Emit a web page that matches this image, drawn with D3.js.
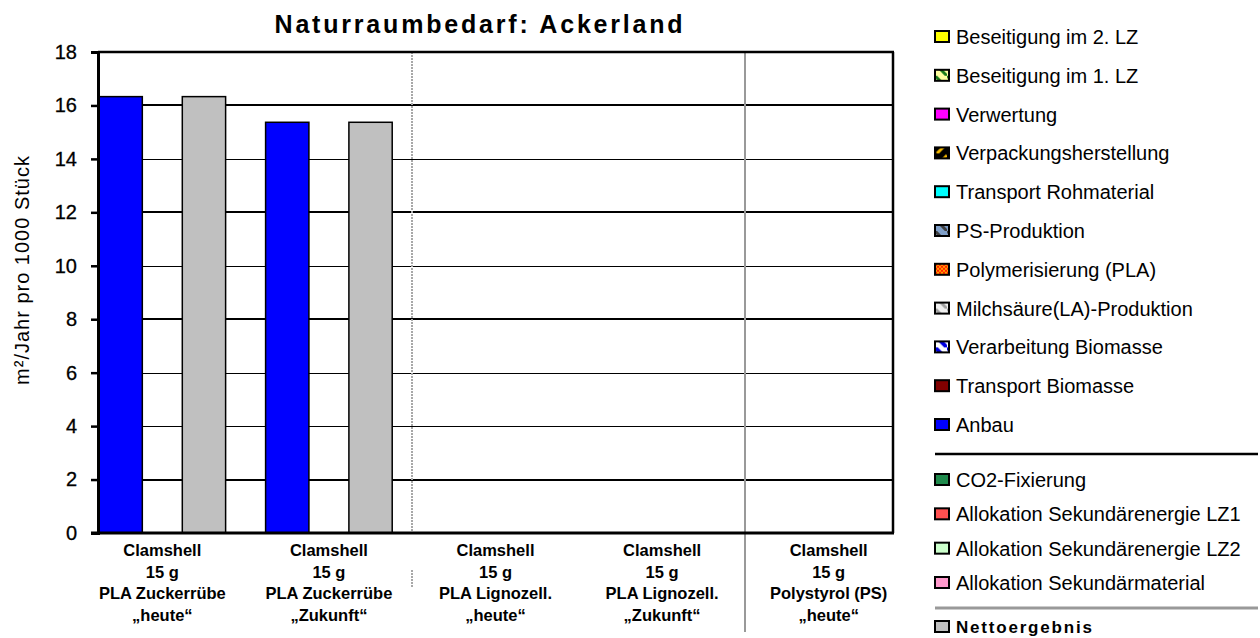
<!DOCTYPE html>
<html>
<head>
<meta charset="utf-8">
<script src="https://cdn.jsdelivr.net/npm/d3@7"></script>
<style>
  body { margin: 0; background: #fff; }
  svg text { font-family: Arial, "Liberation Sans", sans-serif; fill: #000; }
</style>
</head>
<body>
<div id="chart"></div>
<script>
// categories (each one has a stacked bar and a net-result bar)
var categories = [
	["Clamshell", "15 g", "PLA Zuckerrübe", "„heute“"],
	["Clamshell", "15 g", "PLA Zuckerrübe", "„Zukunft“"],
	["Clamshell", "15 g", "PLA Lignozell.", "„heute“"],
	["Clamshell", "15 g", "PLA Lignozell.", "„Zukunft“"],
	["Clamshell", "15 g", "Polystyrol (PS)", "„heute“"]
];

// stacked series, bottom to top (legend lists them top to bottom)
var stackNames = [
	"Anbau", "Transport Biomasse", "Verarbeitung Biomasse", "Milchsäure(LA)-Produktion",
	"Polymerisierung (PLA)", "PS-Produktion", "Transport Rohmaterial",
	"Verpackungsherstellung", "Verwertung", "Beseitigung im 1. LZ", "Beseitigung im 2. LZ"
];
var creditNames = [
	"CO2-Fixierung", "Allokation Sekundärenergie LZ1",
	"Allokation Sekundärenergie LZ2", "Allokation Sekundärmaterial"
];
var anbau = [16.33, 15.37, 0, 0, 0];
var nettoergebnis = [16.33, 15.37, 0, 0, 0];
var yTicks = [0, 2, 4, 6, 8, 10, 12, 14, 16, 18];

var fills = {
	"Beseitigung im 2. LZ": "#ffff00",
	"Beseitigung im 1. LZ": "url(#pBes1)",
	"Verwertung": "#ff00ff",
	"Verpackungsherstellung": "url(#pVerp)",
	"Transport Rohmaterial": "#00ffff",
	"PS-Produktion": "url(#pPS)",
	"Polymerisierung (PLA)": "url(#pPoly)",
	"Milchsäure(LA)-Produktion": "url(#pMilch)",
	"Verarbeitung Biomasse": "url(#pVerarb)",
	"Transport Biomasse": "#800000",
	"Anbau": "#0000ff",
	"CO2-Fixierung": "#1f8a4c",
	"Allokation Sekundärenergie LZ1": "#ff5050",
	"Allokation Sekundärenergie LZ2": "#ccffcc",
	"Allokation Sekundärmaterial": "#ff99cc",
	"Nettoergebnis": "#c0c0c0"
};

var width = 1260, height = 638;
var plot = {left: 98, right: 893, top: 52, bottom: 533};

var svg = d3.select("#chart").append("svg")
	.attr("width", width)
	.attr("height", height);

// legend patterns
var defs = svg.append("defs");
function stripes(id, bg, fg, w) {
	var p = defs.append("pattern")
		.attr("id", id)
		.attr("patternUnits", "userSpaceOnUse")
		.attr("width", 12).attr("height", 12);
	p.append("rect").attr("width", 12).attr("height", 12).attr("fill", bg);
	p.append("path").attr("d", "M-2,-2L14,14").attr("stroke", fg).attr("stroke-width", w);
}
stripes("pBes1", "#ffffa0", "#1a7a1a", 3);
stripes("pPS", "#7f9fc8", "#404040", 3);
stripes("pMilch", "#f0f0f0", "#a0a0a0", 3);
stripes("pVerarb", "#ffffff", "#0000e0", 4);
(function() {
	var p = defs.append("pattern").attr("id", "pVerp")
		.attr("patternUnits", "userSpaceOnUse").attr("width", 12).attr("height", 12);
	p.append("rect").attr("width", 12).attr("height", 12).attr("fill", "#000");
	p.append("path").attr("d", "M2,12L12,2").attr("stroke", "#f5b800").attr("stroke-width", 3);
	var q = defs.append("pattern").attr("id", "pPoly")
		.attr("patternUnits", "userSpaceOnUse").attr("width", 4).attr("height", 4);
	q.append("rect").attr("width", 4).attr("height", 4).attr("fill", "#ff2000");
	q.append("rect").attr("width", 2).attr("height", 2).attr("fill", "#ffa000");
	q.append("rect").attr("x", 2).attr("y", 2).attr("width", 2).attr("height", 2).attr("fill", "#ffa000");
})();

// scales: two slots per category (stacked bar, net bar)
var slots = [];
categories.forEach(function(c, i) { slots.push(i + "s"); slots.push(i + "n"); });

var x = d3.scaleBand().domain(slots).range([99, 892]).paddingInner(0.48).paddingOuter(0);
var y = d3.scaleLinear().domain([0, 18]).range([plot.bottom, plot.top]);

// gridlines
svg.append("g")
	.attr("shape-rendering", "crispEdges")
	.selectAll("line")
	.data(yTicks.filter(function(d) { return d > 0; }))
  .enter().append("line")
	.attr("x1", plot.left).attr("x2", plot.right)
	.attr("y1", function(d) { return Math.round(y(d)); })
	.attr("y2", function(d) { return Math.round(y(d)); })
	.attr("stroke", "#000")
	.attr("stroke-width", function(d) { return (d % 4 == 0 && d != 4) || d == 2 || d == 18 ? 2 : 1; });

// separators between groups
var step = x.step();
var sep1 = Math.round(x("2s") - step * x.paddingInner() / 2);
var sep2 = Math.round(x("4s") - step * x.paddingInner() / 2);
svg.append("line")
	.attr("x1", sep1).attr("x2", sep1).attr("y1", plot.top).attr("y2", plot.bottom)
	.attr("stroke", "#a8a8a8").attr("stroke-width", 2).attr("stroke-dasharray", "2,1");
svg.append("line")
	.attr("x1", sep1).attr("x2", sep1).attr("y1", 570).attr("y2", 587)
	.attr("stroke", "#a8a8a8").attr("stroke-width", 2).attr("stroke-dasharray", "2,1");
svg.append("line")
	.attr("x1", sep2).attr("x2", sep2).attr("y1", plot.top).attr("y2", 632)
	.attr("stroke", "#999").attr("stroke-width", 2);

// bars
var barData = [];
categories.forEach(function(c, i) {
	if (anbau[i] > 0) barData.push({slot: i + "s", value: anbau[i], fill: fills["Anbau"]});
	if (nettoergebnis[i] > 0) barData.push({slot: i + "n", value: nettoergebnis[i], fill: fills["Nettoergebnis"]});
});
svg.append("g")
	.selectAll("rect")
	.data(barData)
  .enter().append("rect")
	.attr("x", function(d) { return x(d.slot); })
	.attr("y", function(d) { return y(d.value); })
	.attr("width", x.bandwidth())
	.attr("height", function(d) { return y(0) - y(d.value); })
	.attr("fill", function(d) { return d.fill; })
	.attr("stroke", "#000")
	.attr("stroke-width", 1.5);

// frame
svg.append("line").attr("x1", plot.left).attr("x2", plot.right + 1).attr("y1", plot.top).attr("y2", plot.top)
	.attr("stroke", "#000").attr("stroke-width", 2.5);
svg.append("line").attr("x1", plot.right).attr("x2", plot.right).attr("y1", plot.top).attr("y2", plot.bottom)
	.attr("stroke", "#000").attr("stroke-width", 2.5);

// y axis
var yAxis = svg.append("g")
	.attr("transform", "translate(" + plot.left + ",0)")
	.call(d3.axisLeft(y).tickValues(yTicks).tickSize(7).tickPadding(14));
yAxis.select(".domain").attr("stroke-width", 3);
yAxis.selectAll(".tick line").attr("stroke-width", 2.5);
yAxis.selectAll(".tick text")
	.style("font-size", "20px")
	.style("font-family", "Arial, 'Liberation Sans', sans-serif")
	.style("stroke", "#000").style("stroke-width", 0.3);

// x axis base line
svg.append("line").attr("x1", plot.left - 7).attr("x2", plot.right + 1).attr("y1", plot.bottom).attr("y2", plot.bottom)
	.attr("stroke", "#000").attr("stroke-width", 3);

// category labels
var catLabels = svg.append("g").selectAll("text")
	.data(categories)
  .enter().append("text")
	.attr("text-anchor", "middle")
	.style("font-size", "16.5px")
	.style("font-weight", "bold")
	.attr("x", function(d, i) { return (x(i + "s") + x(i + "n") + x.bandwidth()) / 2; })
	.attr("y", 556);
catLabels.selectAll("tspan")
	.data(function(d) { return d; })
  .enter().append("tspan")
	.attr("x", function() { return d3.select(this.parentNode).attr("x"); })
	.attr("dy", function(d, j) { return j == 0 ? 0 : 21.7; })
	.text(function(d) { return d; });

// title
svg.append("text")
	.attr("x", 480).attr("y", 33)
	.attr("text-anchor", "middle")
	.style("font-size", "25px")
	.style("font-weight", "bold")
	.style("letter-spacing", "2.8px")
	.text("Naturraumbedarf: Ackerland");

// y axis title
svg.append("text")
	.attr("transform", "translate(29,270) rotate(-90)")
	.attr("text-anchor", "middle")
	.style("font-size", "20px")
	.style("letter-spacing", "1px")
	.text("m²/Jahr pro 1000 Stück");

// legend
var legendTop = stackNames.slice().reverse();
var ly1 = d3.scalePoint().domain(legendTop).range([37, 425]);
var ly2 = d3.scalePoint().domain(creditNames).range([480, 583]);
var legendItems = legendTop.map(function(n) { return {name: n, y: ly1(n)}; })
	.concat(creditNames.map(function(n) { return {name: n, y: ly2(n)}; }))
	.concat([{name: "Nettoergebnis", y: 627, bold: true}]);

var legend = svg.append("g").selectAll("g")
	.data(legendItems)
  .enter().append("g")
	.attr("transform", function(d) { return "translate(935," + d.y + ")"; });
legend.append("rect")
	.attr("x", 0).attr("y", -6)
	.attr("width", 14).attr("height", 11)
	.attr("fill", function(d) { return fills[d.name]; })
	.attr("stroke", "#000").attr("stroke-width", 2);
legend.append("text")
	.attr("x", 21).attr("y", function(d) { return d.bold ? 5.5 : 7; })
	.style("font-size", function(d) { return d.bold ? "17px" : "20px"; })
	.style("font-weight", function(d) { return d.bold ? "bold" : "normal"; })
	.style("letter-spacing", function(d) { return d.bold ? "1.8px" : "0px"; })
	.text(function(d) { return d.name; });

svg.append("line").attr("x1", 935).attr("x2", 1258).attr("y1", 454).attr("y2", 454)
	.attr("stroke", "#000").attr("stroke-width", 2.5);
svg.append("line").attr("x1", 935).attr("x2", 1258).attr("y1", 608).attr("y2", 608)
	.attr("stroke", "#999").attr("stroke-width", 3);
</script>
</body>
</html>
